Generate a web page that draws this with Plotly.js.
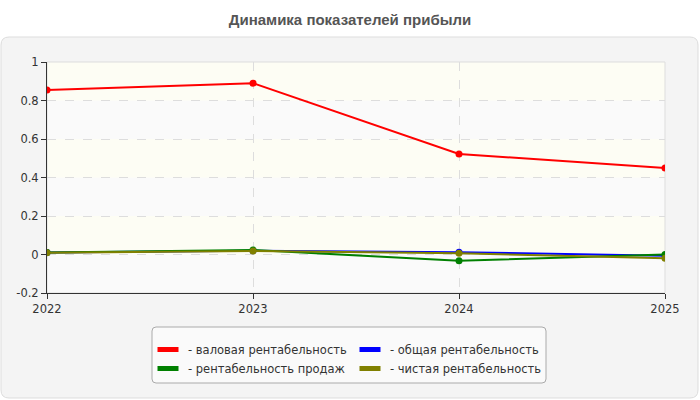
<!DOCTYPE html>
<html>
<head>
<meta charset="utf-8">
<script src="https://cdn.plot.ly/plotly-3.0.1.min.js"></script>
<style>html,body{margin:0;padding:0;background:#fff;}#chart{width:700px;height:400px;}</style>
</head>
<body>
<div id="chart"></div>
<script>
// ---- data ----
var years = [2022, 2023, 2024, 2025];
var grossMargin = [0.855, 0.89, 0.522, 0.45];      // валовая рентабельность
var totalMargin = [0.01, 0.02, 0.012, -0.006];     // общая рентабельность
var salesMargin = [0.01, 0.023, -0.032, 0.0];      // рентабельность продаж
var netMargin   = [0.009, 0.018, 0.007, -0.02];    // чистая рентабельность
var seriesNames = ['- валовая рентабельность', '- общая рентабельность', '- рентабельность продаж', '- чистая рентабельность'];
var yTickVals = [-0.2, 0, 0.2, 0.4, 0.6, 0.8, 1];
var yTickText = ['-0.2', '0', '0.2', '0.4', '0.6', '0.8', '1'];
var chartTitle = 'Динамика показателей прибыли';

// ---- layout helpers (pixel -> paper) ----
var L = 47, R = 665, T = 62, B = 293;
function px(x) { return (x - L) / (R - L); }
function py(y) { return (B - y) / (B - T); }
function roundRect(x0, y0, x1, y1, r) {
  var p = 'M' + px(x0 + r) + ',' + py(y0);
  p += ' L' + px(x1 - r) + ',' + py(y0);
  p += ' Q' + px(x1) + ',' + py(y0) + ' ' + px(x1) + ',' + py(y0 + r);
  p += ' L' + px(x1) + ',' + py(y1 - r);
  p += ' Q' + px(x1) + ',' + py(y1) + ' ' + px(x1 - r) + ',' + py(y1);
  p += ' L' + px(x0 + r) + ',' + py(y1);
  p += ' Q' + px(x0) + ',' + py(y1) + ' ' + px(x0) + ',' + py(y1 - r);
  p += ' L' + px(x0) + ',' + py(y0 + r);
  p += ' Q' + px(x0) + ',' + py(y0) + ' ' + px(x0 + r) + ',' + py(y0) + ' Z';
  return p;
}

var colors = ['#ff0000', '#0000ff', '#008000', '#808000'];
var values = [grossMargin, totalMargin, salesMargin, netMargin];
var legendFor = ['legend', 'legend2', 'legend', 'legend2'];

var traces = [];
for (var i = 0; i < 4; i++) {
  traces.push({
    type: 'scatter', mode: 'lines+markers',
    x: years, y: values[i], name: seriesNames[i],
    legendgroup: 'g' + i, showlegend: false,
    line: { color: colors[i], width: 2 },
    marker: { color: colors[i], size: 7 },
    hoverinfo: 'x+y'
  });
}
for (var j = 0; j < 4; j++) {
  traces.push({
    type: 'scatter', mode: 'markers',
    x: [null], y: [null], name: seriesNames[j],
    legendgroup: 'g' + j, legend: legendFor[j], showlegend: true,
    marker: { symbol: 'line-ew', size: 15, color: colors[j], line: { color: colors[j], width: 7 } }
  });
}

var font = { family: 'DejaVu Sans, Verdana, sans-serif', size: 11.5, color: '#333' };

var shapes = [
  { type: 'path', xref: 'paper', yref: 'paper', layer: 'below',
    path: roundRect(1, 37, 698, 398, 8), fillcolor: '#f4f4f4', line: { color: '#dddddd', width: 1 } },
  { type: 'rect', xref: 'paper', yref: 'paper', layer: 'below',
    x0: 0, x1: 1, y0: 0, y1: 1, fillcolor: '#fafafa', line: { width: 0 } }
];
// alternating cream bands between y ticks
for (var k = 1; k < yTickVals.length - 1; k += 2) {
  shapes.push({ type: 'rect', xref: 'paper', yref: 'y', layer: 'below',
    x0: 0, x1: 1, y0: yTickVals[k], y1: yTickVals[k + 1], fillcolor: '#fdfdf4', line: { width: 0 } });
}
shapes.push({ type: 'rect', xref: 'paper', yref: 'paper', layer: 'below',
  x0: 0, x1: 1, y0: 0, y1: 1, fillcolor: 'rgba(0,0,0,0)', line: { color: '#dddddd', width: 1 } });
shapes.push({ type: 'path', xref: 'paper', yref: 'paper', layer: 'below',
  path: roundRect(152, 327, 546, 383, 4), fillcolor: '#fafafa', line: { color: '#aaaaaa', width: 1 } });

var layout = {
  width: 700, height: 400,
  margin: { l: L, r: 700 - R, t: T, b: 400 - B, pad: 0 },
  paper_bgcolor: '#ffffff',
  plot_bgcolor: 'rgba(0,0,0,0)',
  font: font,
  title: {
    text: chartTitle,
    font: { family: 'Liberation Sans, Arial, sans-serif', size: 15, color: '#555', weight: 'bold' },
    x: 0.5, xref: 'container', xanchor: 'center',
    y: 1 - 20 / 400, yref: 'container', yanchor: 'middle'
  },
  xaxis: {
    range: [2022, 2025], tickvals: years, ticktext: years.map(String),
    showgrid: true, gridcolor: '#dddddd', griddash: 'dash', gridwidth: 1,
    zeroline: false, showline: true, linecolor: '#333', linewidth: 1,
    ticks: 'outside', ticklen: 5, tickcolor: '#333',
    tickfont: font, fixedrange: true
  },
  yaxis: {
    range: [-0.2, 1], tickvals: yTickVals, ticktext: yTickText,
    showgrid: true, gridcolor: '#dddddd', griddash: 'dash', gridwidth: 1,
    zeroline: false, showline: true, linecolor: '#333', linewidth: 1,
    ticks: 'outside', ticklen: 5, tickcolor: '#333',
    tickfont: font, fixedrange: true
  },
  showlegend: true,
  legend: {
    x: px(148), y: py(335), xanchor: 'left', yanchor: 'top',
    orientation: 'v', bgcolor: 'rgba(0,0,0,0)', borderwidth: 0,
    font: font, tracegroupgap: 0, itemclick: false, itemdoubleclick: false
  },
  legend2: {
    x: px(350), y: py(335), xanchor: 'left', yanchor: 'top',
    orientation: 'v', bgcolor: 'rgba(0,0,0,0)', borderwidth: 0,
    font: font, tracegroupgap: 0, itemclick: false, itemdoubleclick: false
  },
  shapes: shapes
};

Plotly.newPlot('chart', traces, layout, { staticPlot: true, displayModeBar: false });
</script>
</body>
</html>
